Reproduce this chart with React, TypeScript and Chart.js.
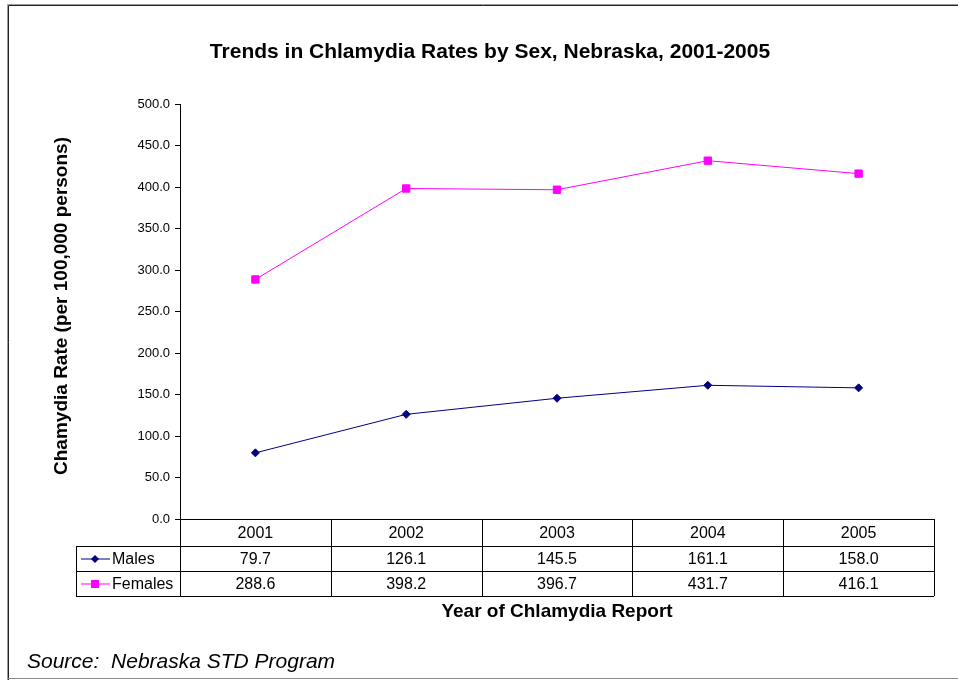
import React, { useEffect, useRef } from "react";
import { Chart, registerables } from "chart.js";

Chart.register(...registerables);

const years = ["2001", "2002", "2003", "2004", "2005"];
const males = [79.7, 126.1, 145.5, 161.1, 158.0];
const females = [288.6, 398.2, 396.7, 431.7, 416.1];
const seriesNames = ["Males", "Females"];
const chartTitle = "Trends in Chlamydia Rates by Sex, Nebraska, 2001-2005";
const yTitle = "Chamydia Rate (per 100,000 persons)";
const xTitle = "Year of Chlamydia Report";
const sourceText = "Source:  Nebraska STD Program";

const FONT = '"Liberation Sans", Arial, Helvetica, sans-serif';
const MALE_COLOR = "#000080";
const FEMALE_COLOR = "#FF00FF";

const extrasPlugin = {
  id: "extras",
  afterDraw(chart: any) {
    const ctx = chart.ctx;
    const area = chart.chartArea;
    const xs = chart.scales.x;
    ctx.save();

    // frame
    ctx.lineWidth = 1;
    ctx.strokeStyle = "#9a9a9a";
    ctx.beginPath();
    ctx.moveTo(7.5, 680);
    ctx.lineTo(7.5, 4.5);
    ctx.lineTo(958, 4.5);
    ctx.stroke();
    ctx.strokeStyle = "#222";
    ctx.beginPath();
    ctx.moveTo(8.5, 680);
    ctx.lineTo(8.5, 5.5);
    ctx.lineTo(958, 5.5);
    ctx.stroke();
    ctx.strokeStyle = "#8a8a8a";
    ctx.beginPath();
    ctx.moveTo(8, 678.5);
    ctx.lineTo(958, 678.5);
    ctx.stroke();

    // title
    ctx.fillStyle = "#000";
    ctx.font = `bold 21px ${FONT}`;
    ctx.textAlign = "center";
    ctx.textBaseline = "middle";
    ctx.fillText(chartTitle, 490, 52);

    // y title
    ctx.save();
    ctx.translate(62, 306);
    ctx.rotate(-Math.PI / 2);
    ctx.font = `bold 19px ${FONT}`;
    ctx.fillText(yTitle, 0, 0);
    ctx.restore();

    // data table
    const left = area.left;
    const right = area.right;
    const top = area.bottom;
    const r1 = top + 27;
    const r2 = r1 + 25;
    const r3 = r2 + 25;
    const legLeft = 76;
    const colW = (right - left) / years.length;

    ctx.strokeStyle = "#000";
    ctx.lineWidth = 1;
    ctx.beginPath();
    ctx.moveTo(left, top + 0.5);
    ctx.lineTo(right, top + 0.5);
    [r1, r2, r3].forEach((y) => {
      ctx.moveTo(legLeft, y + 0.5);
      ctx.lineTo(right, y + 0.5);
    });
    ctx.moveTo(legLeft + 0.5, r1);
    ctx.lineTo(legLeft + 0.5, r3);
    for (let i = 0; i <= years.length; i++) {
      const x = Math.round(left + i * colW) + 0.5;
      ctx.moveTo(x, top);
      ctx.lineTo(x, r3);
    }
    ctx.stroke();

    ctx.font = `16px ${FONT}`;
    ctx.fillStyle = "#000";
    ctx.textAlign = "center";
    years.forEach((yr, i) => {
      const cx = xs.getPixelForValue(i);
      ctx.fillText(yr, cx, (top + r1) / 2 + 1);
      ctx.fillText(males[i].toFixed(1), cx, (r1 + r2) / 2 + 1);
      ctx.fillText(females[i].toFixed(1), cx, (r2 + r3) / 2 + 1);
    });

    // legend keys
    const rows = [
      { y: (r1 + r2) / 2, color: MALE_COLOR, style: "diamond" },
      { y: (r2 + r3) / 2, color: FEMALE_COLOR, style: "square" },
    ];
    rows.forEach((r, k) => {
      ctx.strokeStyle = r.color;
      ctx.fillStyle = r.color;
      ctx.beginPath();
      ctx.moveTo(81, r.y + 0.5);
      ctx.lineTo(110, r.y + 0.5);
      ctx.stroke();
      const mx = 95;
      const my = r.y + 0.5;
      ctx.beginPath();
      if (r.style === "diamond") {
        ctx.moveTo(mx, my - 4);
        ctx.lineTo(mx + 4, my);
        ctx.lineTo(mx, my + 4);
        ctx.lineTo(mx - 4, my);
        ctx.closePath();
      } else {
        ctx.rect(mx - 4, my - 4, 8, 8);
      }
      ctx.fill();
      ctx.fillStyle = "#000";
      ctx.textAlign = "left";
      ctx.fillText(seriesNames[k], 112, r.y + 1);
    });

    // x title
    ctx.textAlign = "center";
    ctx.font = `bold 19px ${FONT}`;
    ctx.fillText(xTitle, 557, 612);

    // source
    ctx.textAlign = "left";
    ctx.font = `italic 21px ${FONT}`;
    ctx.fillText(sourceText, 27, 662);

    ctx.restore();
  },
};

export default function App() {
  const ref = useRef<HTMLCanvasElement>(null);

  useEffect(() => {
    if (!ref.current) return;
    Chart.defaults.font.family = FONT;
    const chart = new Chart(ref.current, {
      type: "line",
      data: {
        labels: years,
        datasets: [
          {
            label: seriesNames[0],
            data: males,
            borderColor: MALE_COLOR,
            backgroundColor: MALE_COLOR,
            borderWidth: 1,
            pointStyle: "rectRot",
            pointRadius: 4,
            pointBorderWidth: 1,
            tension: 0,
          },
          {
            label: seriesNames[1],
            data: females,
            borderColor: FEMALE_COLOR,
            backgroundColor: FEMALE_COLOR,
            borderWidth: 1,
            pointStyle: "rect",
            pointRadius: 5.2,
            pointBorderWidth: 1,
            tension: 0,
          },
        ],
      },
      options: {
        responsive: false,
        animation: false,
        layout: { padding: { top: 104, right: 24, bottom: 161, left: 0 } },
        plugins: {
          legend: { display: false },
          title: { display: false },
          tooltip: { enabled: false },
        },
        scales: {
          x: {
            type: "category",
            display: false,
            offset: true,
          },
          y: {
            min: 0,
            max: 500,
            afterFit: (scale: any) => {
              scale.width = 180;
            },
            ticks: {
              stepSize: 50,
              color: "#000",
              padding: 5,
              font: { size: 13, family: FONT },
              callback: (v: any) => Number(v).toFixed(1),
            },
            grid: {
              drawOnChartArea: false,
              drawTicks: true,
              tickLength: 5,
              color: "#000",
            },
            border: { display: true, color: "#000", width: 1 },
          },
        },
      },
      plugins: [extrasPlugin],
    });
    return () => chart.destroy();
  }, []);

  return (
    <div style={{ position: "absolute", left: 0, top: 0, width: 958, height: 680, background: "#fff" }}>
      <canvas ref={ref} width={958} height={680} style={{ display: "block" }} />
    </div>
  );
}
